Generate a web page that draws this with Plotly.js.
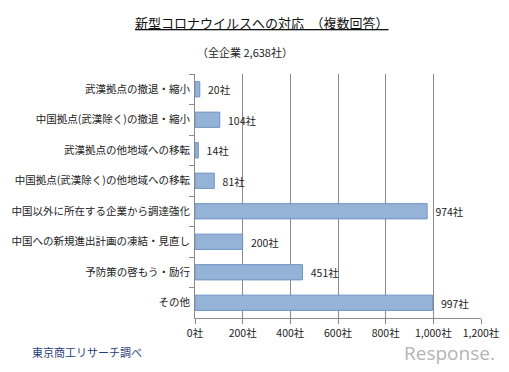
<!DOCTYPE html>
<html><head><meta charset="utf-8">
<script src="https://cdn.plot.ly/plotly-3.0.1.min.js"></script>
<style>html,body{margin:0;padding:0;background:#fff;}#chart{width:509px;height:372px;}</style>
</head><body><div id="chart"></div>
<script>
const categories = [
  "武漢拠点の撤退・縮小",
  "中国拠点(武漢除く)の撤退・縮小",
  "武漢拠点の他地域への移転",
  "中国拠点(武漢除く)の他地域への移転",
  "中国以外に所在する企業から調達強化",
  "中国への新規進出計画の凍結・見直し",
  "予防策の啓もう・励行",
  "その他"
];
const values = [20, 104, 14, 81, 974, 200, 451, 997];
const tickVals = [0, 200, 400, 600, 800, 1000, 1200];
const tickText = ["0社", "200社", "400社", "600社", "800社", "1,000社", "1,200社"];

const F = "'Noto Sans CJK JP', 'Noto Sans', sans-serif";
const trace = {
  type: 'bar', orientation: 'h',
  y: categories, x: values,
  text: values.map(v => '\u2002' + v + '社'),
  textposition: 'outside', cliponaxis: false,
  textfont: {family: F, size: 11, color: '#222'},
  marker: {color: '#95b3d7', line: {color: '#6f93c4', width: 1}},
  width: 0.5,
  hoverinfo: 'none'
};
const layout = {
  width: 509, height: 372,
  margin: {l: 195, r: 28, t: 74, b: 54},
  paper_bgcolor: '#fff', plot_bgcolor: '#fff',
  showlegend: false,
  font: {family: F, size: 11, color: '#222'},
  xaxis: {
    range: [0, 1200], tickvals: tickVals, ticktext: tickText,
    showgrid: true, gridcolor: '#8a8a8a', gridwidth: 1,
    ticks: 'outside', ticklen: 5, tickcolor: '#8a8a8a',
    showline: true, linecolor: '#8a8a8a', zeroline: false,
    tickfont: {family: F, size: 10.5, color: '#222'}, fixedrange: true
  },
  yaxis: {
    autorange: 'reversed', type: 'category',
    tickson: 'boundaries', ticks: 'outside', ticklen: 5, tickcolor: '#8a8a8a',
    showline: true, linecolor: '#8a8a8a', showgrid: false,
    ticklabelstandoff: 2,
    tickfont: {family: F, size: 10.5, color: '#222'}, fixedrange: true
  },
  annotations: [
    {text: '<u>新型コロナウイルスへの対応　（複数回答）</u>', xref: 'paper', yref: 'paper',
     x: (262 - 195) / 286, y: 1 + (74 - 23) / 244, showarrow: false, xanchor: 'center', yanchor: 'middle',
     font: {family: F, size: 13, color: '#111'}},
    {text: '（全企業 2,638社）', xref: 'paper', yref: 'paper',
     x: (245 - 195) / 286, y: 1 + (74 - 52) / 244, showarrow: false, xanchor: 'center', yanchor: 'middle',
     font: {family: F, size: 11, color: '#222'}},
    {text: '東京商工リサーチ調べ', xref: 'paper', yref: 'paper',
     x: (30 - 195) / 286, y: -(352 - 318) / 244, showarrow: false, xanchor: 'left', yanchor: 'middle',
     font: {family: F, size: 11, color: '#1f3d7a'}},
    {text: 'Response.', xref: 'paper', yref: 'paper',
     x: (497 - 195) / 286, y: -(353 - 318) / 244, showarrow: false, xanchor: 'right', yanchor: 'middle',
     font: {family: "'Open Sans', sans-serif", size: 19, color: '#b4b4b4'}}
  ]
};
Plotly.newPlot('chart', [trace], layout, {displayModeBar: false, staticPlot: true});
</script></body></html>
